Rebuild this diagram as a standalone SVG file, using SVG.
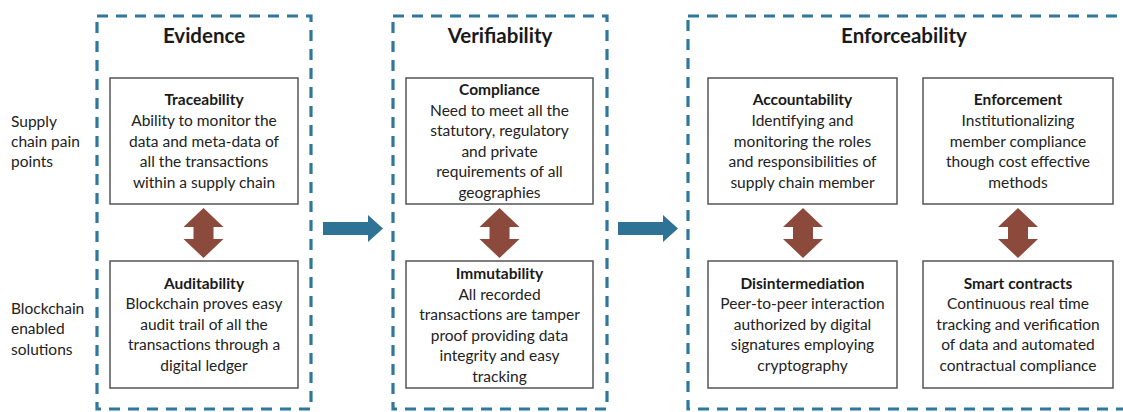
<svg xmlns="http://www.w3.org/2000/svg" width="1123" height="412" viewBox="0 0 1123 412">
  <style>
    .frame { fill: none; stroke: #2f779c; stroke-width: 3.2; stroke-dasharray: 11 8; }
    .box { fill: #ffffff; stroke: #555555; stroke-width: 1.5; }
    .title { font-family: Lato, "Liberation Sans", sans-serif; font-weight: bold; font-size: 20.5px; fill: #1a1a1a; text-anchor: middle; }
    .head { font-family: Lato, "Liberation Sans", sans-serif; font-weight: bold; font-size: 15.5px; fill: #1a1a1a; text-anchor: middle; }
    .body { font-family: Lato, "Liberation Sans", sans-serif; font-size: 15.5px; fill: #222222; text-anchor: middle; }
    .side { font-family: Lato, "Liberation Sans", sans-serif; font-size: 15.5px; fill: #222222; }
    .link { fill: #8c4a3c; }
    .flow { fill: #2e7396; }
  </style>
  <defs>
    <!-- vertical two-headed arrow, centred on x=0 -->
    <path id="dbl" d="M0,208 L20,227 L10,227 L10,239 L20,239 L0,258 L-20,239 L-10,239 L-10,227 L-20,227 Z"/>
    <!-- block arrow pointing right, starting at x=0 -->
    <path id="blk" d="M0,222 L45,222 L45,215 L60,228.5 L45,242 L45,235 L0,235 Z"/>
  </defs>

  <rect width="1123" height="412" fill="#ffffff"/>

  <!-- row labels -->
  <g id="row-pain">
    <text class="side" x="11" y="127">Supply</text>
    <text class="side" x="11" y="147">chain pain</text>
    <text class="side" x="11" y="167">points</text>
  </g>
  <g id="row-solutions">
    <text class="side" x="11" y="314">Blockchain</text>
    <text class="side" x="11" y="334">enabled</text>
    <text class="side" x="11" y="355">solutions</text>
  </g>

  <!-- stage frames -->
  <g id="evidence">
    <rect class="frame" x="97" y="16" width="214" height="393"/>
    <text class="title" x="204" y="43">Evidence</text>
  </g>
  <g id="verifiability">
    <rect class="frame" x="393" y="16" width="214" height="393"/>
    <text class="title" x="500" y="43">Verifiability</text>
  </g>
  <g id="enforceability">
    <rect class="frame" x="688" y="16" width="460" height="393"/>
    <text class="title" x="904" y="43">Enforceability</text>
  </g>

  <!-- pain point boxes -->
  <g id="traceability">
    <rect class="box" x="110" y="78" width="188" height="126"/>
    <text class="head" x="204" y="105">Traceability</text>
    <text class="body" x="204" y="126">Ability to monitor the</text>
    <text class="body" x="204" y="146.5">data and meta-data of</text>
    <text class="body" x="204" y="167">all the transactions</text>
    <text class="body" x="204" y="188">within a supply chain</text>
  </g>
  <g id="compliance">
    <rect class="box" x="406" y="78" width="187" height="126"/>
    <text class="head" x="499.5" y="95">Compliance</text>
    <text class="body" x="499.5" y="115.5">Need to meet all the</text>
    <text class="body" x="499.5" y="136">statutory, regulatory</text>
    <text class="body" x="499.5" y="156.5">and private</text>
    <text class="body" x="499.5" y="177">requirements of all</text>
    <text class="body" x="499.5" y="197.5">geographies</text>
  </g>
  <g id="accountability">
    <rect class="box" x="708" y="78" width="189" height="126"/>
    <text class="head" x="802.5" y="105">Accountability</text>
    <text class="body" x="802.5" y="126">Identifying and</text>
    <text class="body" x="802.5" y="146.5">monitoring the roles</text>
    <text class="body" x="802.5" y="167">and responsibilities of</text>
    <text class="body" x="802.5" y="188">supply chain member</text>
  </g>
  <g id="enforcement">
    <rect class="box" x="923" y="78" width="190" height="126"/>
    <text class="head" x="1018" y="105">Enforcement</text>
    <text class="body" x="1018" y="126">Institutionalizing</text>
    <text class="body" x="1018" y="146.5">member compliance</text>
    <text class="body" x="1018" y="167">though cost effective</text>
    <text class="body" x="1018" y="188">methods</text>
  </g>

  <!-- blockchain solution boxes -->
  <g id="auditability">
    <rect class="box" x="110" y="261" width="188" height="127"/>
    <text class="head" x="204" y="289">Auditability</text>
    <text class="body" x="204" y="309">Blockchain proves easy</text>
    <text class="body" x="204" y="330">audit trail of all the</text>
    <text class="body" x="204" y="350">transactions through a</text>
    <text class="body" x="204" y="371">digital ledger</text>
  </g>
  <g id="immutability">
    <rect class="box" x="406" y="261" width="187" height="127"/>
    <text class="head" x="499.5" y="279">Immutability</text>
    <text class="body" x="499.5" y="299.5">All recorded</text>
    <text class="body" x="499.5" y="320">transactions are tamper</text>
    <text class="body" x="499.5" y="340.5">proof providing  data</text>
    <text class="body" x="499.5" y="361">integrity and easy</text>
    <text class="body" x="499.5" y="381.5">tracking</text>
  </g>
  <g id="disintermediation">
    <rect class="box" x="708" y="261" width="189" height="127"/>
    <text class="head" x="802.5" y="289">Disintermediation</text>
    <text class="body" x="802.5" y="309">Peer-to-peer interaction</text>
    <text class="body" x="802.5" y="330">authorized by digital</text>
    <text class="body" x="802.5" y="350">signatures employing</text>
    <text class="body" x="802.5" y="371">cryptography</text>
  </g>
  <g id="smart-contracts">
    <rect class="box" x="923" y="261" width="190" height="127"/>
    <text class="head" x="1018" y="289">Smart contracts</text>
    <text class="body" x="1018" y="309">Continuous  real time</text>
    <text class="body" x="1018" y="330">tracking and verification</text>
    <text class="body" x="1018" y="350">of data and automated</text>
    <text class="body" x="1018" y="371">contractual compliance</text>
  </g>

  <!-- connectors -->
  <g id="connectors">
    <use href="#dbl" class="link" x="203.5"/>
    <use href="#dbl" class="link" x="499.5"/>
    <use href="#dbl" class="link" x="803"/>
    <use href="#dbl" class="link" x="1018"/>
    <use href="#blk" class="flow" x="323"/>
    <use href="#blk" class="flow" x="618"/>
  </g>
</svg>
